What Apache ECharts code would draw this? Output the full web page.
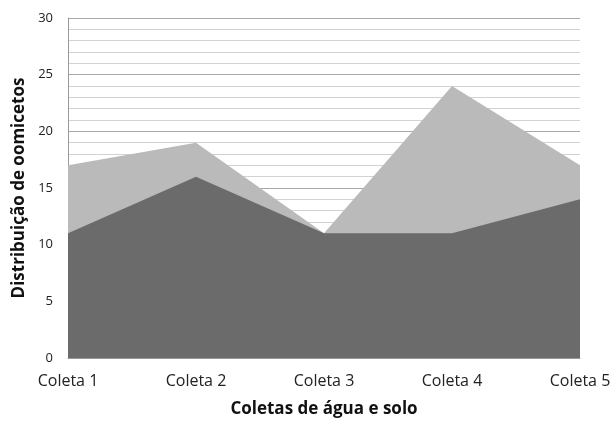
<!DOCTYPE html>
<html>
<head>
<meta charset="utf-8">
<script src="https://cdn.jsdelivr.net/npm/echarts@6/dist/echarts.min.js"></script>
<style>
  html, body { margin: 0; padding: 0; background: #fff; }
  #chart { width: 611px; height: 421px; }
</style>
</head>
<body>
<div id="chart"></div>
<script>
// Coletas (x-axis categories)
const categories = ['Coleta 1', 'Coleta 2', 'Coleta 3', 'Coleta 4', 'Coleta 5'];
// Upper (light) area and lower (dark) area values
const seriesLight = [17, 19, 11, 24, 17];
const seriesDark = [11, 16, 11, 11, 14];

const FONT = '"Open Sans", "Liberation Sans", sans-serif';

const chart = echarts.init(document.getElementById('chart'), null, { renderer: 'canvas' });
chart.setOption({
  animation: false,
  backgroundColor: '#ffffff',
  grid: { left: 68, right: 31, top: 18, bottom: 63, containLabel: false, outerBoundsMode: 'none' },
  xAxis: {
    type: 'category',
    data: categories,
    boundaryGap: false,
    name: 'Coletas de água e solo',
    nameLocation: 'middle',
    nameGap: 43,
    nameTextStyle: { fontFamily: FONT, fontSize: 17, fontWeight: 'bold', color: '#111' },
    axisLine: { lineStyle: { color: '#9a9a9a', width: 1 } },
    axisTick: { show: false },
    axisLabel: { fontFamily: FONT, fontSize: 16, color: '#222', margin: 15 },
    splitLine: { show: false }
  },
  yAxis: {
    type: 'value',
    min: 0,
    max: 30,
    interval: 5,
    name: 'Distribuição de oomicetos',
    nameLocation: 'middle',
    nameGap: 37,
    nameTextStyle: { fontFamily: FONT, fontSize: 17, fontWeight: 'bold', color: '#111' },
    axisLine: { show: true, lineStyle: { color: '#9a9a9a', width: 1 } },
    axisTick: { show: false },
    axisLabel: { fontFamily: FONT, fontSize: 13, color: '#222', margin: 15 },
    splitLine: { show: true, lineStyle: { color: '#a8a8a8', width: 1 } },
    minorTick: { show: false, splitNumber: 5 },
    minorSplitLine: { show: true, lineStyle: { color: '#d2d2d2', width: 1 } }
  },
  series: [
    {
      name: 'total',
      type: 'line',
      data: seriesLight,
      symbol: 'none',
      lineStyle: { width: 0 },
      areaStyle: { color: '#bababa', opacity: 1 },
      z: 2
    },
    {
      name: 'base',
      type: 'line',
      data: seriesDark,
      symbol: 'none',
      lineStyle: { width: 0 },
      areaStyle: { color: '#6b6b6b', opacity: 1 },
      z: 3
    }
  ]
});
</script>
</body>
</html>
